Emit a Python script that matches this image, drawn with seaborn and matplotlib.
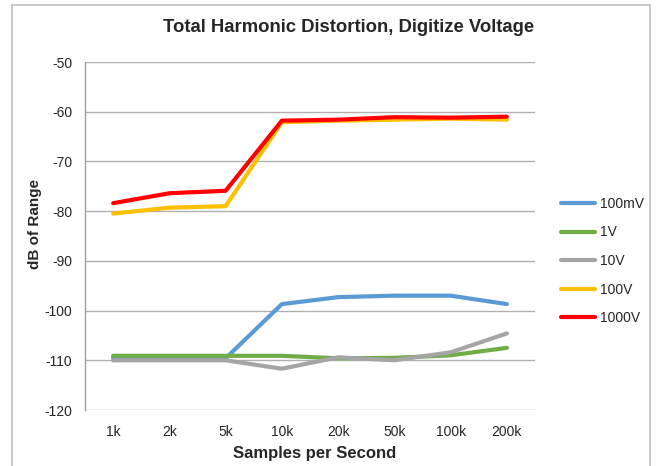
import numpy as np
import pandas as pd
import matplotlib
matplotlib.use('Agg')
import matplotlib.pyplot as plt
import seaborn as sns
from matplotlib.lines import Line2D

rates = ['1k', '2k', '5k', '10k', '20k', '50k', '100k', '200k']
v_100mv = [-109.5, -109.5, -109.6, -98.7, -97.3, -97.0, -97.0, -98.7]
v_1v = [-109.1, -109.1, -109.1, -109.1, -109.6, -109.5, -109.0, -107.5]
v_10v = [-110.0, -110.0, -110.0, -111.7, -109.4, -110.0, -108.4, -104.6]
v_100v = [-80.5, -79.3, -79.0, -62.1, -61.8, -61.6, -61.4, -61.6]
v_1000v = [-78.4, -76.4, -75.9, -61.8, -61.6, -61.1, -61.2, -61.0]

series = ['100mV', '1V', '10V', '100V', '1000V']
palette = ['#5b9bd5', '#70ad47', '#a5a5a5', '#ffc000', '#ff0000']

df = pd.DataFrame({'rate': rates, '100mV': v_100mv, '1V': v_1v, '10V': v_10v,
                   '100V': v_100v, '1000V': v_1000v})
long = df.melt(id_vars='rate', var_name='range', value_name='db')
long['x'] = long['rate'].map({r: i for i, r in enumerate(rates)})

sns.set_style('white')
plt.rcParams['font.family'] = ['Liberation Sans', 'DejaVu Sans']
plt.rcParams['axes.unicode_minus'] = False

fig = plt.figure(figsize=(6.57, 4.66), dpi=100)
ax = fig.add_axes([85 / 657, 1 - 410 / 466, (535 - 85) / 657, (410 - 62) / 466])

sns.lineplot(data=long, x='x', y='db', hue='range', hue_order=series,
             palette=palette, linewidth=3, ax=ax, legend=False)

ax.set_xlim(-0.5, len(rates) - 0.5)
ax.set_ylim(-120, -50)
ax.set_yticks(np.arange(-120, -49, 10))
ax.set_xticks(range(len(rates)))
ax.set_xticklabels(rates)
ax.tick_params(axis='y', labelsize=10, length=0, pad=9)
ax.tick_params(axis='x', labelsize=10, length=0, pad=11)
ax.yaxis.grid(True, color='#b0b0b0', linewidth=1)
ax.set_axisbelow(True)
for s in ['top', 'right', 'bottom']:
    ax.spines[s].set_visible(False)
ax.spines['left'].set_color('#a0a0a0')
ax.spines['left'].set_linewidth(1)

# title sits a little right of the plot centre, as in the source chart
fig.text(349 / 657, 1 - 27 / 466, 'Total Harmonic Distortion, Digitize Voltage',
         fontsize=13.3, fontweight='bold', ha='center', va='center')
ax.set_xlabel('Samples per Second', fontsize=12, fontweight='bold')
ax.xaxis.set_label_coords((315 - 85) / 450, -(446 - 410) / 348)
ax.set_ylabel('dB of Range', fontsize=11, fontweight='bold')
ax.yaxis.set_label_coords((42 - 85) / 450, (410 - 224) / 348)

handles = [Line2D([0], [0], color=c, linewidth=3, solid_capstyle='round') for c in palette]
fig.legend(handles, series, loc='center left', bbox_to_anchor=(548 / 657, 1 - 261 / 466),
           frameon=False, fontsize=10, handlelength=2.5, handletextpad=0.35,
           labelspacing=1.05)

# chart frame
frame = dict(color='#c0c0c0', linewidth=1.2, transform=fig.transFigure)
fig.add_artist(Line2D([12 / 657, 12 / 657], [0, 1 - 5 / 466], **frame))
fig.add_artist(Line2D([650 / 657, 650 / 657], [0, 1 - 5 / 466], **frame))
fig.add_artist(Line2D([12 / 657, 650 / 657], [1 - 5 / 466, 1 - 5 / 466], **frame))

fig.savefig('out.png', dpi=100)
